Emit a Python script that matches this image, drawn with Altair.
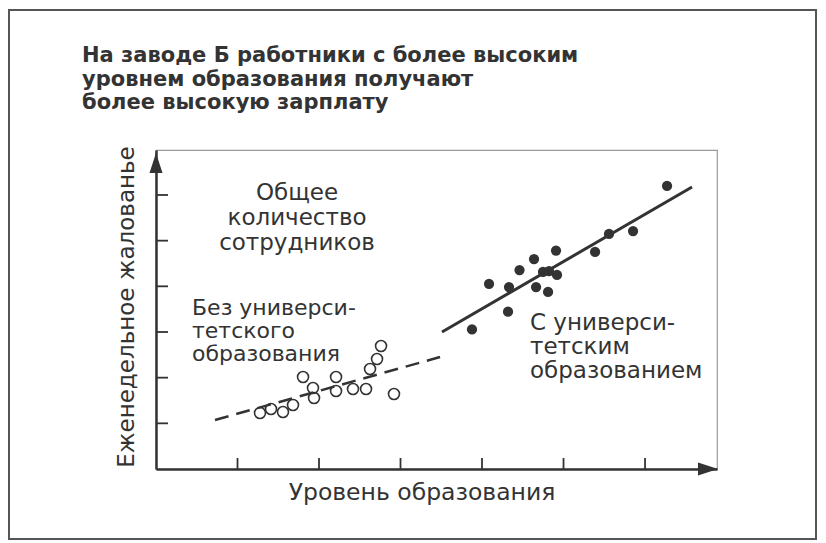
import altair as alt
import pandas as pd

# ---- data (data units: one tick step = 1) ----
open_x = [1.276, 1.411, 1.558, 1.681, 1.804, 1.926, 1.939, 2.209, 2.209, 2.417, 2.577, 2.626, 2.712, 2.761, 2.920]
open_y = [1.226, 1.314, 1.248, 1.401, 2.014, 1.774, 1.555, 2.014, 1.708, 1.752, 1.752, 2.190, 2.409, 2.693, 1.642]

filled_x = [3.877, 4.086, 4.319, 4.331, 4.460, 4.638, 4.663, 4.748, 4.822, 4.810, 4.908, 4.920, 5.387, 5.558, 5.853, 6.270]
filled_y = [3.055, 4.051, 3.444, 3.985, 4.357, 4.598, 3.985, 4.314, 4.335, 3.876, 4.784, 4.248, 4.752, 5.146, 5.211, 6.197]

dash_x = [0.724, 3.485]
dash_y = [1.073, 2.452]
solid_x = [3.509, 6.577]
solid_y = [3.000, 6.175]

x_ticks = [1, 2, 3, 4, 5, 6]
y_ticks = [1, 2, 3, 4, 5, 6]
X_MAX = 6.883
Y_MAX = 6.985

title_lines = ["На заводе Б работники с более высоким",
               "уровнем образования получают",
               "более высокую зарплату"]
total_lines = ["Общее", "количество", "сотрудников"]
noedu_lines = ["Без универси-", "тетского", "образования"]
edu_lines = ["С универси-", "тетским", "образованием"]
x_title = "Уровень образования"
y_title = "Еженедельное жалованье"

W, H = 561, 319
INK = "#333333"
FONT = "DejaVu Sans"

xs = alt.Scale(domain=[0, X_MAX], nice=False, zero=False)
ys = alt.Scale(domain=[0, Y_MAX], nice=False, zero=False)

open_df = pd.DataFrame({"x": open_x, "y": open_y})
filled_df = pd.DataFrame({"x": filled_x, "y": filled_y})
dash_df = pd.DataFrame({"x": dash_x, "y": dash_y})
solid_df = pd.DataFrame({"x": solid_x, "y": solid_y})
xt_df = pd.DataFrame({"t": x_ticks})
yt_df = pd.DataFrame({"t": y_ticks})
one = pd.DataFrame({"a": [0]})

ax = alt.Axis(domain=True, domainColor=INK, domainWidth=2.5, ticks=False,
              labels=False, grid=False, title=None)

base_axes = alt.Chart(one).mark_point(opacity=0).encode(
    x=alt.X("xv:Q", scale=xs, axis=ax),
    y=alt.Y("yv:Q", scale=ys, axis=ax),
).transform_calculate(xv="0", yv="0")

frame = alt.Chart(one).mark_rect(fillOpacity=0, stroke="#555555", strokeWidth=2).encode(
    x=alt.value(-147), x2=alt.value(660), y=alt.value(-140), y2=alt.value(389)
)

xtick = alt.Chart(xt_df).mark_rule(color=INK, strokeWidth=1.8).encode(
    x=alt.X("t:Q", scale=xs), y=alt.value(H), y2=alt.value(H - 11)
)
ytick = alt.Chart(yt_df).mark_rule(color=INK, strokeWidth=1.8).encode(
    y=alt.Y("t:Q", scale=ys), x=alt.value(0), x2=alt.value(12)
)

arrow_up = alt.Chart(one).mark_point(
    shape="M0,-1L-0.65,1L0.65,1Z", filled=True, color=INK, opacity=1, size=400, yOffset=13
).encode(x=alt.datum(0, scale=xs), y=alt.datum(Y_MAX, scale=ys))
arrow_right = alt.Chart(one).mark_point(
    shape="M1,0L-1,-0.65L-1,0.65Z", filled=True, color=INK, opacity=1, size=400, xOffset=-9
).encode(x=alt.datum(X_MAX, scale=xs), y=alt.datum(0, scale=ys))

dash_line = alt.Chart(dash_df).mark_line(color=INK, strokeWidth=2.5, strokeDash=[14, 8]).encode(
    x=alt.X("x:Q", scale=xs), y=alt.Y("y:Q", scale=ys)
)
solid_line = alt.Chart(solid_df).mark_line(color=INK, strokeWidth=3).encode(
    x=alt.X("x:Q", scale=xs), y=alt.Y("y:Q", scale=ys)
)
open_pts = alt.Chart(open_df).mark_point(
    shape="circle", filled=False, stroke=INK, strokeWidth=1.6, size=120, opacity=1
).encode(x=alt.X("x:Q", scale=xs), y=alt.Y("y:Q", scale=ys))
filled_pts = alt.Chart(filled_df).mark_point(
    shape="circle", filled=True, fill=INK, size=105, opacity=1
).encode(x=alt.X("x:Q", scale=xs), y=alt.Y("y:Q", scale=ys))


def txt(lines, x, y, size=23, align="left", lh=24, weight="normal", angle=0, baseline="alphabetic"):
    return alt.Chart(one).mark_text(
        text=lines, font=FONT, fontSize=size, fontWeight=weight, color=INK,
        align=align, baseline=baseline, lineHeight=lh, angle=angle
    ).encode(x=alt.value(x), y=alt.value(y))


title = txt(title_lines, -74, -88, size=21, lh=23.5, weight="bold")
total_t = txt(total_lines, 141, 50, align="center", lh=25)
noedu_t = txt(noedu_lines, 36, 165, size=22, lh=23)
edu_t = txt(edu_lines, 374, 180, lh=24)
xtitle = txt(x_title, 266, 350, size=23.5, align="center")
ytitle = txt(y_title, -29, 157, align="center", angle=270, baseline="middle")

chart = alt.layer(
    frame, base_axes, xtick, ytick, dash_line, solid_line, open_pts, filled_pts,
    arrow_up, arrow_right, title, total_t, noedu_t, edu_t, xtitle, ytitle
).properties(
    width=W, height=H,
    autosize=alt.AutoSizeParams(type="none"),
    padding={"left": 148, "top": 142, "right": 101, "bottom": 72},
    background="white",
).configure_view(stroke="#9a9a9a", strokeWidth=1.2)

chart.save("out.html", embed_options={"renderer": "svg", "actions": False})
